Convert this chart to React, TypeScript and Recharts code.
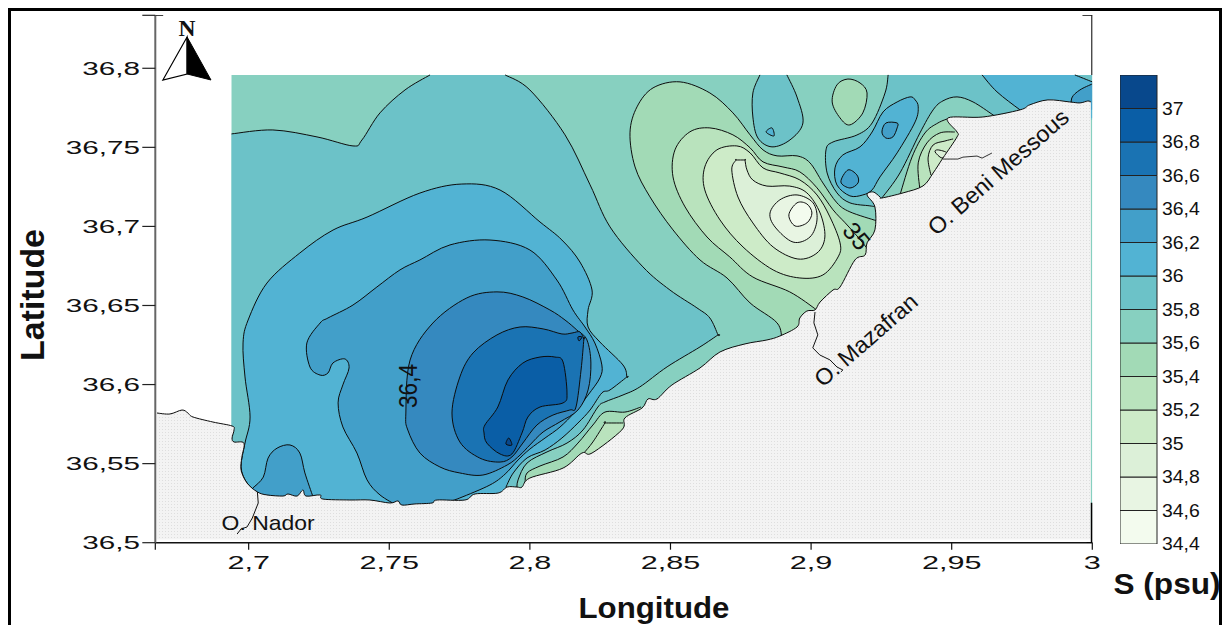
import React from "react";
import { ScatterChart, Scatter, XAxis, YAxis, BarChart, Bar } from "recharts";

type Pt = [number, number];
type Region = { color: string; runs: Pt[][]; rest?: Pt[]; noStroke?: boolean };

// ---- axes
const xDomain = [2.6668, 3];
const yDomain = [36.5, 36.8335];
const xTicks = [2.6668, 2.7, 2.75, 2.8, 2.85, 2.9, 2.95, 3];
const xTickLabels = ["", "2,7", "2,75", "2,8", "2,85", "2,9", "2,95", "3"];
const yTicks = [36.5, 36.55, 36.6, 36.65, 36.7, 36.75, 36.8, 36.8335];
const yTickLabels = ["36,5", "36,55", "36,6", "36,65", "36,7", "36,75", "36,8", ""];

// ---- colour scale
const bandColors = ["#f3fbee", "#e8f5e3", "#dcf0d8", "#cdebc8", "#b9e3bd", "#a2dab6", "#87d0c0", "#6cc2c8", "#52b3d3", "#429fc9", "#3589bf", "#1a73b3", "#0a5ea6", "#08488c"];
const [c344, c346, c348, c350, c352, c354, c356, c358, c360, c362, c364, c366, c368, c370] = bandColors;
const bandTicks = [34.4, 34.6, 34.8, 35, 35.2, 35.4, 35.6, 35.8, 36, 36.2, 36.4, 36.6, 36.8, 37];
const bandTickLabels = ["34,4", "34,6", "34,8", "35", "35,2", "35,4", "35,6", "35,8", "36", "36,2", "36,4", "36,6", "36,8", "37"];

// ---- salinity contours (lon, lat). A repeated point makes a sharp corner.
const teal358W: Pt[] = [[2.6939,36.7585],[2.7086,36.761],[2.7243,36.7566],[2.7371,36.7509],[2.7403,36.7547],[2.7467,36.7718],[2.7556,36.7863],[2.7645,36.7958]];
const teal358E: Pt[] = [[2.7912,36.7958],[2.8,36.7863],[2.8125,36.7579],[2.8214,36.7263],[2.8285,36.6997],[2.8402,36.6744],[2.8498,36.6598],[2.8594,36.6485],[2.864,36.6421],[2.8669,36.6314],[2.8669,36.6314],[2.8605,36.6238],[2.8488,36.6112],[2.8391,36.5985],[2.8331,36.5934],[2.8267,36.589],[2.8242,36.5858],[2.8189,36.5713],[2.8132,36.563],[2.8061,36.5574],[2.799,36.5504],[2.7958,36.5397],[2.7954,36.5333]];
const main360: Pt[] = [[2.7031,36.532],[2.6994,36.5378],[2.6973,36.5479],[2.6987,36.563],[2.7005,36.5795],[2.6987,36.6048],[2.698,36.6263],[2.6998,36.6408],[2.7065,36.6642],[2.7182,36.6832],[2.73,36.6977],[2.7421,36.7059],[2.7609,36.7211],[2.7758,36.7268],[2.7894,36.723],[2.8036,36.7028],[2.8114,36.6914],[2.8178,36.6775],[2.8221,36.6598],[2.8207,36.6472],[2.8207,36.6364],[2.8249,36.6269],[2.8331,36.6124],[2.8345,36.6048],[2.8345,36.6048],[2.8285,36.5966],[2.8256,36.5947],[2.8214,36.5839],[2.8171,36.5757],[2.8114,36.5662],[2.8054,36.5586],[2.799,36.5536],[2.7941,36.5441],[2.7915,36.5352]];
const main362: Pt[] = [[2.7531,36.5232],[2.7467,36.5302],[2.7421,36.5397],[2.7385,36.5567],[2.7335,36.5732],[2.7318,36.5884],[2.7335,36.5998],[2.7357,36.6105],[2.7342,36.6162],[2.73,36.6137],[2.7282,36.6073],[2.7254,36.606],[2.7218,36.6111],[2.7207,36.6263],[2.7254,36.6389],[2.7282,36.6421],[2.7371,36.6503],[2.7456,36.6617],[2.7538,36.6725],[2.7609,36.6788],[2.7716,36.6883],[2.7858,36.6914],[2.8,36.6851],[2.8096,36.6661],[2.8153,36.6472],[2.8196,36.6364],[2.8231,36.6263],[2.8256,36.6124],[2.8249,36.6042],[2.8207,36.5934],[2.816,36.5826],[2.8107,36.5731],[2.8054,36.5662],[2.8,36.5592],[2.7958,36.5523],[2.7912,36.5434],[2.7858,36.5365],[2.7751,36.5283],[2.7698,36.5251]];
const patch362: Pt[] = [[2.7015,36.5346],[2.7052,36.5415],[2.7069,36.5535],[2.7101,36.5598],[2.7147,36.5618],[2.7182,36.5567],[2.72,36.5441],[2.7229,36.5289]];
const ring364: Pt[] = [[2.7559,36.582],[2.7574,36.6155],[2.7655,36.6389],[2.7776,36.6548],[2.7883,36.6586],[2.7975,36.6554],[2.8071,36.6472],[2.8125,36.6408],[2.8167,36.6345],[2.8203,36.6282],[2.8217,36.6136],[2.8207,36.5966],[2.8171,36.5839],[2.8107,36.5764],[2.8047,36.57],[2.8,36.5618],[2.7965,36.5554],[2.7919,36.5491],[2.7833,36.5428],[2.7751,36.5441],[2.768,36.5479],[2.7609,36.5567],[2.7566,36.5712]];
const ring366: Pt[] = [[2.7723,36.582],[2.7751,36.6048],[2.7798,36.62],[2.7883,36.6314],[2.7965,36.6364],[2.8047,36.6352],[2.8114,36.632],[2.815,36.6326],[2.8178,36.6333],[2.8192,36.6288],[2.8192,36.6288],[2.8182,36.6092],[2.8164,36.5858],[2.8142,36.5839],[2.8082,36.5807],[2.8025,36.5744],[2.7975,36.563],[2.7936,36.5542],[2.7894,36.551],[2.7822,36.5535],[2.7751,36.5637]];
const ring368: Pt[] = [[2.784,36.5744],[2.7886,36.5858],[2.7922,36.6029],[2.7975,36.6136],[2.8036,36.6174],[2.8089,36.6174],[2.8118,36.6143],[2.8132,36.5947],[2.8118,36.5884],[2.8036,36.5858],[2.7993,36.5795],[2.7972,36.5694],[2.7936,36.5561],[2.7894,36.5561],[2.7847,36.563],[2.7837,36.5694]];
const tri370: Pt[] = [[2.7925,36.5662],[2.7936,36.5618],[2.7915,36.5624]];
const tri368: Pt[] = [[2.8171,36.6301],[2.8185,36.6301],[2.8175,36.6276]];
const tail354: Pt[] = [[2.8395,36.5858],[2.8338,36.5826],[2.8267,36.5826],[2.8224,36.5744],[2.8171,36.563],[2.8118,36.5542],[2.8036,36.5485],[2.799,36.5441],[2.7983,36.5384]];
const tail352: Pt[] = [[2.8192,36.5567],[2.8224,36.5637],[2.8267,36.5757],[2.8267,36.5757],[2.8331,36.5757]];
const blob354: Pt[] = [[2.8896,36.6282],[2.8879,36.639],[2.8783,36.6516],[2.8701,36.6674],[2.8605,36.6788],[2.8509,36.6978],[2.8427,36.7187],[2.8374,36.7376],[2.8356,36.7592],[2.8381,36.7756],[2.8438,36.7876],[2.8534,36.7914],[2.864,36.7844],[2.8722,36.7718],[2.8783,36.7579],[2.8829,36.7484],[2.8879,36.7446],[2.895,36.7446],[2.8996,36.7402],[2.9042,36.7275],[2.9092,36.7149],[2.9138,36.7092],[2.9234,36.7035]];
const blob352: Pt[] = [[2.902,36.6472],[2.8924,36.6586],[2.8793,36.668],[2.8711,36.6807],[2.863,36.6933],[2.8552,36.7123],[2.8509,36.7313],[2.8516,36.7484],[2.8569,36.7598],[2.864,36.7623],[2.8722,36.7579],[2.8783,36.7497],[2.8829,36.7408],[2.89,36.7376],[2.896,36.7345],[2.9021,36.7244],[2.9078,36.7105],[2.9121,36.7023],[2.9163,36.694],[2.9198,36.6864]];
const ring350: Pt[] = [[2.8736,36.7509],[2.8665,36.7484],[2.8622,36.7376],[2.8622,36.7231],[2.8676,36.7041],[2.8758,36.687],[2.8865,36.6725],[2.896,36.6674],[2.9042,36.6693],[2.9096,36.6807],[2.9103,36.6896],[2.9067,36.706],[2.9021,36.7199],[2.896,36.7294],[2.8889,36.7338],[2.8829,36.737],[2.8783,36.7465]];
const ring348: Pt[] = [[2.8765,36.742],[2.8765,36.742],[2.8733,36.742],[2.8733,36.742],[2.8718,36.7357],[2.874,36.7186],[2.8793,36.7022],[2.8865,36.687],[2.8953,36.6794],[2.9021,36.6832],[2.9049,36.6933],[2.9032,36.7085],[2.8985,36.7212],[2.8924,36.7255],[2.8843,36.7255],[2.8793,36.7293],[2.8772,36.7357]];
const ring346: Pt[] = [[2.895,36.7199],[2.9007,36.7149],[2.9021,36.7041],[2.8996,36.6933],[2.8936,36.6901],[2.8872,36.6996],[2.8854,36.7085],[2.8889,36.7168]];
const ring344: Pt[] = [[2.895,36.7149],[2.8985,36.7142],[2.9003,36.7085],[2.8985,36.7022],[2.8943,36.7003],[2.8921,36.7073]];
const top358: Pt[] = [[2.8818,36.7958],[2.8793,36.7844],[2.8793,36.7692],[2.8811,36.7559],[2.8861,36.7503],[2.8925,36.7547],[2.8971,36.7654],[2.895,36.7818],[2.8914,36.7958]];
const triTop360: Pt[] = [[2.884,36.7597],[2.8861,36.7623],[2.8868,36.7572]];
const top354: Pt[] = [[2.9131,36.7932],[2.9174,36.7907],[2.9199,36.7844],[2.9184,36.7718],[2.9138,36.7642],[2.9103,36.7686],[2.9075,36.7787],[2.9092,36.7895]];
const east358A: Pt[] = [[2.9274,36.7958],[2.9263,36.7844],[2.9217,36.7654],[2.9163,36.7578],[2.9078,36.7534],[2.9053,36.7484],[2.9057,36.7338],[2.9092,36.7212],[2.9138,36.7149],[2.9209,36.713],[2.9234,36.7123]];
const east358B: Pt[] = [[2.9252,36.718],[2.9316,36.7338],[2.9387,36.7591],[2.9434,36.7737],[2.9469,36.7794],[2.9519,36.7819],[2.9576,36.7787],[2.9647,36.7705],[2.9672,36.7674]];
const east360A: Pt[] = [[2.9608,36.7958],[2.9661,36.7851],[2.9743,36.7737],[2.9786,36.7686]];
const east360B: Pt[] = [[3,36.7914],[2.9938,36.7958]];
const east362: Pt[] = [[3,36.7901],[2.9956,36.7863],[2.9927,36.7812],[2.9927,36.7737]];
const double360: Pt[] = [[2.9352,36.7819],[2.9306,36.7787],[2.9256,36.7724],[2.9217,36.7597],[2.9174,36.7503],[2.9113,36.7452],[2.9085,36.737],[2.9092,36.7262],[2.9138,36.7193],[2.9184,36.7199],[2.9217,36.7231],[2.9245,36.7313],[2.9306,36.7465],[2.937,36.7661],[2.9381,36.7756],[2.937,36.78]];
const small362A: Pt[] = [[2.9131,36.7357],[2.9163,36.7325],[2.9167,36.7275],[2.9138,36.7243],[2.9106,36.7281]];
const small362B: Pt[] = [[2.9266,36.7654],[2.9306,36.7654],[2.9306,36.7623],[2.9291,36.7566],[2.9266,36.7559],[2.9252,36.7597]];
const beni354: Pt[] = [[2.9316,36.7199],[2.9359,36.7439],[2.9405,36.7591],[2.9451,36.7654],[2.9494,36.7686]];
const beni352: Pt[] = [[2.9387,36.7231],[2.9381,36.7402],[2.9412,36.7528],[2.9458,36.7591],[2.9511,36.7597]];
const beni350: Pt[] = [[2.9426,36.7325],[2.9416,36.7433],[2.9434,36.7515],[2.9476,36.754],[2.9505,36.7553]];
const beni348: Pt[] = [[2.9441,36.7471],[2.9451,36.7484],[2.9483,36.7465],[2.9465,36.7433]];

// ---- coastline and rivers
const coast: Pt[] = [[2.6674,36.582],[2.672,36.5814],[2.6763,36.5839],[2.6784,36.582],[2.6802,36.5795],[2.6873,36.5763],[2.6941,36.5738],[2.6948,36.5713],[2.6941,36.5662],[2.6948,36.5637],[2.6983,36.563],[2.6976,36.5542],[2.6973,36.546],[2.6994,36.5378],[2.7031,36.5321],[2.7065,36.5302],[2.7122,36.5295],[2.714,36.5308],[2.7172,36.5295],[2.7193,36.5333],[2.7204,36.5295],[2.7254,36.5302],[2.7264,36.5276],[2.736,36.527],[2.7431,36.527],[2.7502,36.5251],[2.7531,36.5264],[2.7545,36.5238],[2.7591,36.5245],[2.7652,36.5251],[2.767,36.527],[2.7769,36.527],[2.7805,36.5308],[2.7887,36.5314],[2.7919,36.5352],[2.7954,36.5352],[2.7972,36.5352],[2.8,36.5409],[2.8118,36.5472],[2.8185,36.5567],[2.8221,36.5567],[2.8327,36.5713],[2.8338,36.5789],[2.8399,36.5852],[2.842,36.5909],[2.8452,36.5909],[2.8505,36.5997],[2.8605,36.6105],[2.8676,36.6206],[2.8765,36.6257],[2.8843,36.6282],[2.8889,36.6307],[2.895,36.6364],[2.896,36.6421],[2.8985,36.6465],[2.9014,36.6472],[2.9032,36.6522],[2.9078,36.6598],[2.9103,36.6617],[2.9156,36.6788],[2.9192,36.6819],[2.9199,36.6896],[2.9227,36.6978],[2.9227,36.7123],[2.9199,36.7199],[2.9221,36.7218],[2.9245,36.7187],[2.9252,36.718],[2.9327,36.7212],[2.9398,36.7256],[2.9434,36.7338],[2.9469,36.7433],[2.9519,36.7566],[2.9519,36.7597],[2.9487,36.7686],[2.9611,36.7692],[2.9743,36.7737],[2.9778,36.7769],[2.9842,36.78],[2.992,36.7787],[2.9956,36.7781],[2.9984,36.7793],[2.9995,36.7787]];
const riverNador: Pt[] = [[2.7031,36.5321],[2.7034,36.5251],[2.7013,36.5156],[2.6994,36.5099],[2.6973,36.5087],[2.6959,36.5055]];
const riverMazafran: Pt[] = [[2.9014,36.6459],[2.901,36.639],[2.9024,36.6314],[2.9006,36.6232],[2.9031,36.6187],[2.9067,36.6156],[2.9092,36.6111],[2.9113,36.6092],[2.9106,36.608]];
const riverBeni: Pt[] = [[2.9469,36.7426],[2.9522,36.7426],[2.954,36.7438],[2.959,36.7445],[2.9608,36.7432],[2.9643,36.7464]];
const axisTopRight: Pt[] = [[3, 36.8335], [3, 36.7958]];
const axisBottomRight: Pt[] = [[3, 36.5253], [3, 36.5]];
const crossTopLeft: Pt[] = [[2.6668, 36.8335], [2.6696, 36.8335]];
const crossTopRight: Pt[] = [[2.9965, 36.8335], [3.003, 36.8335]];
const crossBottomRight: Pt[] = [[2.998, 36.5], [3.003, 36.5]];

// ---- north arrow
const arrowLeft: Pt[] = [[2.6781,36.8198],[2.6695,36.7926],[2.6781,36.7964]];
const arrowRight: Pt[] = [[2.6781,36.8198],[2.6866,36.7926],[2.6781,36.7964]];

// ---- text on the map
const mapLabels = [
  { lon: 2.7069, lat: 36.5125, text: "O. Nador", angle: 0, size: 21, len: 93, font: "'Liberation Sans'", weight: 400 },
  { lon: 2.9665, lat: 36.7344, text: "O. Beni Messous", angle: -41, size: 23, len: 178, font: "'Liberation Sans'", weight: 400 },
  { lon: 2.9195, lat: 36.6282, text: "O. Mazafran", angle: -41, size: 23, len: 128, font: "'Liberation Sans'", weight: 400 },
  { lon: 2.7566, lat: 36.5991, text: "36,4", angle: -90, size: 25, len: 44, font: "'Liberation Sans'", weight: 400 },
  { lon: 2.9163, lat: 36.694, text: "35", angle: 50, size: 25, len: 27, font: "'Liberation Sans'", weight: 400 },
  { lon: 2.6781, lat: 36.8254, text: "N", angle: 0, size: 23, len: 17, font: "'Liberation Serif'", weight: 700 },
];

const regions: Region[] = [
  { color: c356, runs: [], rest: [[2.6939,36.7958],[3,36.7958],[3,36.508],[2.6939,36.508]] },
  { color: c358, runs: [teal358W, teal358E], rest: [[2.7954,36.508],[2.6939,36.508]] },
  { color: c358, runs: [east358A, east358B], rest: [[3,36.7674],[3,36.7958]] },
  { color: c360, runs: [east360A, [[3,36.7686]], east360B], rest: [] },
  { color: c362, runs: [east362], rest: [[3,36.7737]] },
  { color: c360, runs: [double360] },
  { color: c362, runs: [small362A] },
  { color: c362, runs: [small362B] },
  { color: c360, runs: [main360], rest: [[2.7915,36.515],[2.7031,36.515]] },
  { color: c362, runs: [main362], rest: [[2.7698,36.515],[2.7531,36.515]] },
  { color: c362, runs: [patch362], rest: [[2.7229,36.515],[2.7015,36.515]] },
  { color: c364, runs: [ring364] },
  { color: c366, runs: [ring366] },
  { color: c368, runs: [ring368] },
  { color: c370, runs: [tri370] },
  { color: c368, runs: [tri368] },
  { color: c354, runs: [tail354], rest: [[2.7983,36.5207],[2.8395,36.5586]] },
  { color: c352, runs: [tail352], rest: [[2.8331,36.5586],[2.8192,36.543]] },
  { color: c354, runs: [blob354], rest: [[2.9234,36.6788],[2.896,36.6282]] },
  { color: c352, runs: [blob352], rest: [[2.9234,36.6775],[2.9049,36.644]] },
  { color: c350, runs: [ring350] },
  { color: c348, runs: [ring348] },
  { color: c346, runs: [ring346] },
  { color: c344, runs: [ring344] },
  { color: c358, runs: [top358], rest: [] },
  { color: c360, runs: [triTop360] },
  { color: c354, runs: [top354] },
  { color: c354, runs: [beni354], rest: [[2.955,36.7686],[2.953,36.7484],[2.9405,36.7199]] },
  { color: c352, runs: [beni352], rest: [[2.955,36.7597],[2.953,36.7484],[2.9405,36.7199]] },
  { color: c350, runs: [beni350], rest: [[2.953,36.7484],[2.9444,36.7294]] },
  { color: c348, runs: [beni348] },
  { color: "url(#landDots)", runs: [coast], rest: [[2.9995,36.502],[2.6674,36.502]] },
];
const lines: { pts: Pt[]; width: number; color: string }[] = [
  { pts: riverNador, width: 1, color: "#111" },
  { pts: riverMazafran, width: 1, color: "#111" },
  { pts: riverBeni, width: 1, color: "#333" },
  { pts: axisTopRight, width: 2, color: "#000" },
  { pts: axisBottomRight, width: 3, color: "#000" },
  { pts: crossTopLeft, width: 1.5, color: "#000" },
  { pts: crossTopRight, width: 1.5, color: "#000" },
  { pts: crossBottomRight, width: 1.5, color: "#000" },
];

type XY = { x: number; y: number };
function smooth(p: XY[], closed: boolean): string {
  const n = p.length;
  let d = "";
  const last = closed ? n : n - 1;
  for (let i = 0; i < last; i++) {
    const a = closed ? p[(i - 1 + n) % n] : p[Math.max(i - 1, 0)];
    const b = p[i];
    const c = closed ? p[(i + 1) % n] : p[i + 1];
    const e = closed ? p[(i + 2) % n] : p[Math.min(i + 2, n - 1)];
    d += `C${b.x + (c.x - a.x) / 6},${b.y + (c.y - a.y) / 6} ${c.x - (e.x - b.x) / 6},${c.y - (e.y - b.y) / 6} ${c.x},${c.y}`;
  }
  return d;
}
const toRows = (pts: Pt[]) => pts.map(([lon, lat]) => ({ lon, lat }));
const noMark = () => <g />;

function renderRegion(r: Region) {
  return (props: any) => {
    const pts: XY[] = props.points;
    const ring = r.rest === undefined;
    let i = 0;
    let fill = "";
    let stroke = "";
    r.runs.forEach((run) => {
      const seg = pts.slice(i, i + run.length);
      i += run.length;
      const head = `${seg[0].x},${seg[0].y}`;
      fill += (fill ? "L" : "M") + head + smooth(seg, ring);
      if (seg.length > 1) stroke += "M" + head + smooth(seg, ring);
    });
    pts.slice(i).forEach((q) => {
      fill += (fill ? "L" : "M") + `${q.x},${q.y}`;
    });
    return (
      <g>
        <path d={fill + "Z"} fill={r.color} stroke="none" />
        {stroke && <path d={stroke} fill="none" stroke="#0c0c0c" strokeWidth={1} />}
      </g>
    );
  };
}
function renderLine(l: { width: number; color: string }) {
  return (props: any) => (
    <path d={"M" + props.points.map((q: XY) => `${q.x},${q.y}`).join("L")} fill="none" stroke={l.color} strokeWidth={l.width} />
  );
}

const bandRow: Record<string, number | string> = { name: "S", base: 34.4 };
bandColors.forEach((_, i) => (bandRow["b" + i] = 0.2));
const bandData = [bandRow];

const AXIS_FONT = "'Liberation Sans', Arial, sans-serif";
const tickText = (label: string, x: number, y: number, anchor: string, sx: number) => (
  <text transform={`translate(${x},${y}) scale(${sx},1)`} textAnchor={anchor as any} dominantBaseline="central" fontFamily={AXIS_FONT} fontSize={18} fill="#111">
    {label}
  </text>
);

export default function App() {
  return (
    <div style={{ position: "absolute", left: 0, top: 0, width: 1223, height: 625, overflow: "hidden", background: "#fff" }}>
      <ScatterChart width={1223} height={625} margin={{ top: 15.3, right: 130.7, bottom: 0, left: 0 }}>
        <defs>
          <pattern id="landDots" width="3" height="3" patternUnits="userSpaceOnUse">
            <rect width="3" height="3" fill="#f3f3f3" />
            <rect width="1" height="1" fill="#dedede" />
          </pattern>
        </defs>
        <XAxis
          xAxisId="b" dataKey="lon" type="number" domain={xDomain} ticks={xTicks} interval={0} height={82.3} allowDataOverflow
          tickSize={7} axisLine={{ stroke: "#111", strokeWidth: 1.6 }} tickLine={{ stroke: "#111", strokeWidth: 1.2 }}
          tick={(p: any) => tickText(xTickLabels[p.index], p.x, 563, "middle", 1.7)}
        />
        <XAxis
          xAxisId="t" orientation="top" dataKey="lon" type="number" domain={xDomain} ticks={[xDomain[0], xDomain[1]]} interval={0} height={0} allowDataOverflow
          tickSize={4} tick={false} axisLine={{ stroke: "#444", strokeWidth: 1.6 }} tickLine={{ stroke: "#111", strokeWidth: 1.2 }}
        />
        <YAxis
          yAxisId="l" dataKey="lat" type="number" domain={yDomain} ticks={yTicks} interval={0} width={155.3} allowDataOverflow
          tickSize={13} axisLine={{ stroke: "#666", strokeWidth: 2 }} tickLine={{ stroke: "#222", strokeWidth: 1.2 }}
          tick={(p: any) => tickText(yTickLabels[p.index], 140, p.y, "end", 1.65)}
        />
        <YAxis
          yAxisId="r" orientation="right" dataKey="lat" type="number" domain={yDomain} ticks={yTicks} interval={0} width={0} allowDataOverflow
          tickSize={3} tick={false} axisLine={false} tickLine={{ stroke: "#333", strokeWidth: 1 }}
        />
        {regions.map((r, i) => (
          <Scatter
            key={"r" + i} xAxisId="b" yAxisId="l" isAnimationActive={false} legendType="none"
            data={toRows([...r.runs.flat(), ...(r.rest || [])])} shape={noMark} line={renderRegion(r)}
          />
        ))}
        {lines.map((l, i) => (
          <Scatter key={"l" + i} xAxisId="b" yAxisId="l" isAnimationActive={false} legendType="none" data={toRows(l.pts)} shape={noMark} line={renderLine(l)} />
        ))}
        <Scatter xAxisId="b" yAxisId="l" isAnimationActive={false} legendType="none" data={toRows(arrowLeft)} shape={noMark}
          line={(p: any) => <path d={"M" + p.points.map((q: XY) => `${q.x},${q.y}`).join("L") + "Z"} fill="#fff" stroke="#000" strokeWidth={1.2} />} />
        <Scatter xAxisId="b" yAxisId="l" isAnimationActive={false} legendType="none" data={toRows(arrowRight)} shape={noMark}
          line={(p: any) => <path d={"M" + p.points.map((q: XY) => `${q.x},${q.y}`).join("L") + "Z"} fill="#000" stroke="#000" strokeWidth={1} />} />
        <Scatter
          xAxisId="b" yAxisId="l" isAnimationActive={false} legendType="none" data={mapLabels}
          shape={(p: any) => (
            <text
              transform={`translate(${p.cx},${p.cy}) rotate(${p.payload.angle})`} textAnchor="middle" dominantBaseline="central"
              fontFamily={p.payload.font} fontWeight={p.payload.weight} fontSize={p.payload.size} fill="#111"
              textLength={p.payload.len} lengthAdjust="spacingAndGlyphs"
            >
              {p.payload.text}
            </text>
          )}
        />
        <text x={654} y={608} textAnchor="middle" dominantBaseline="central" fontFamily={AXIS_FONT} fontWeight={700} fontSize={29} textLength={151} lengthAdjust="spacingAndGlyphs" fill="#111">Longitude</text>
        <text transform="translate(32,295) rotate(-90)" textAnchor="middle" dominantBaseline="central" fontFamily={AXIS_FONT} fontWeight={700} fontSize={34} textLength={132} lengthAdjust="spacingAndGlyphs" fill="#111">Latitude</text>
        <text x={1167} y={584} textAnchor="middle" dominantBaseline="central" fontFamily={AXIS_FONT} fontWeight={700} fontSize={29} textLength={107} lengthAdjust="spacingAndGlyphs" fill="#111">S (psu)</text>
      </ScatterChart>
      <div style={{ position: "absolute", left: 1119.7, top: 75, width: 97, height: 490 }}>
        <BarChart width={97} height={490} data={bandData} margin={{ top: 0, right: 0, bottom: 21, left: 0 }} barCategoryGap={0}>
          <XAxis dataKey="name" hide />
          <YAxis
            orientation="right" type="number" domain={[34.4, 37.2]} ticks={bandTicks} interval={0} width={60} allowDataOverflow
            axisLine={false} tickLine={false} tickSize={5}
            tick={(p: any) => tickText(bandTickLabels[p.index], 42, p.y, "start", 1.08)}
          />
          <Bar dataKey="base" stackId="s" fill="none" isAnimationActive={false} />
          {bandColors.map((c, i) => (
            <Bar key={c} dataKey={"b" + i} stackId="s" fill={c} stroke="#222" strokeWidth={1} isAnimationActive={false} />
          ))}
        </BarChart>
      </div>
      <div style={{ position: "absolute", left: 8, top: 8, width: 1207.5, height: 800, border: "3.5px solid #000" }} />
    </div>
  );
}
